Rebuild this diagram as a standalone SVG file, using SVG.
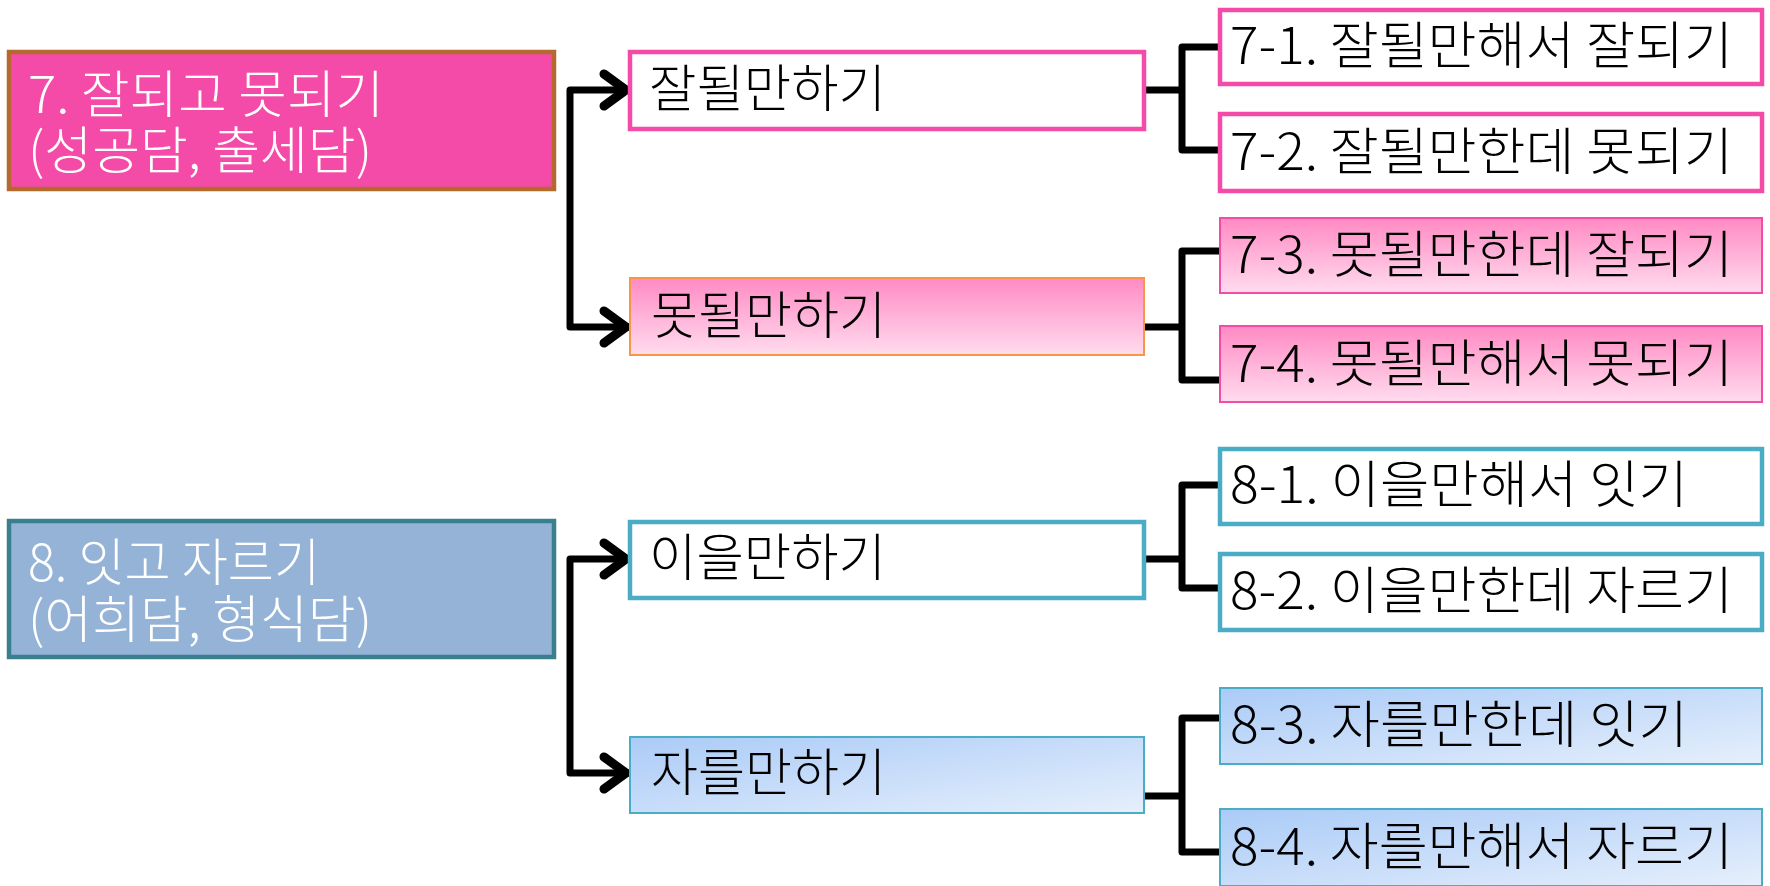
<svg xmlns="http://www.w3.org/2000/svg" width="1770" height="886" viewBox="0 0 1770 886">
<style>
text{font-family:"Noto Sans CJK KR","Noto Sans",sans-serif;font-size:51px;font-weight:300;fill:#000}
.w{fill:#fff}
.conn{fill:none;stroke:#000;stroke-width:7;stroke-linejoin:round;stroke-linecap:butt}
.head{fill:none;stroke:#000;stroke-width:9;stroke-linecap:round;stroke-linejoin:miter}
.pk{fill:#fff;stroke:#F54BA8;stroke-width:4.5}
.pkg{fill:url(#gp);stroke:#F54BA8;stroke-width:2}
.bl{fill:#fff;stroke:#4BACC6;stroke-width:4.5}
.blg{fill:url(#gb);stroke:#4BACC6;stroke-width:2}
</style>
<defs>
<linearGradient id="gp" x1="0" y1="0" x2="0" y2="1">
<stop offset="0" stop-color="#FF8AC4"/>
<stop offset="1" stop-color="#FFDCEE"/>
</linearGradient>
<linearGradient id="gb" x1="0" y1="0" x2="1" y2="1">
<stop offset="0" stop-color="#AACBF7"/>
<stop offset="1" stop-color="#E6EFFC"/>
</linearGradient>
</defs>
<rect width="1770" height="886" fill="#fff"/>

<g id="connectors">
<polyline class="conn" points="629,90 570,90 570,327 629,327"/>
<polyline class="head" points="604,74 626,90 604,106"/>
<polyline class="head" points="604,311 626,327 604,343"/>
<polyline class="conn" points="1145,90 1182,90"/>
<polyline class="conn" points="1219,47 1182,47 1182,150 1219,150"/>
<polyline class="conn" points="1145,327 1182,327"/>
<polyline class="conn" points="1219,251 1182,251 1182,380 1219,380"/>

<polyline class="conn" points="629,559 570,559 570,773 629,773"/>
<polyline class="head" points="604,543 626,559 604,575"/>
<polyline class="head" points="604,757 626,773 604,789"/>
<polyline class="conn" points="1145,559 1182,559"/>
<polyline class="conn" points="1219,485 1182,485 1182,588 1219,588"/>
<polyline class="conn" points="1145,796 1182,796"/>
<polyline class="conn" points="1219,718 1182,718 1182,852 1219,852"/>
</g>

<g id="n7">
<rect x="9" y="52" width="545" height="137" fill="#F54BA8" stroke="#B5692E" stroke-width="4.5"/>
<text class="w" x="28" y="113" textLength="356" lengthAdjust="spacingAndGlyphs">7. 잘되고 못되기</text>
<text class="w" x="28" y="169" textLength="344" lengthAdjust="spacingAndGlyphs">(성공담, 출세담)</text>
</g>
<g id="n7a">
<rect class="pk" x="630" y="52" width="514" height="77"/>
<text x="649" y="107" textLength="237" lengthAdjust="spacingAndGlyphs">잘될만하기</text>
</g>
<g id="n7b">
<rect class="pkg" x="630" y="278" width="514" height="77" style="stroke:#F79646"/>
<text x="651" y="334" textLength="235" lengthAdjust="spacingAndGlyphs">못될만하기</text>
</g>
<g id="n7-1">
<rect class="pk" x="1220" y="10" width="542" height="74"/>
<text x="1230" y="64" textLength="503" lengthAdjust="spacingAndGlyphs">7-1. 잘될만해서 잘되기</text>
</g>
<g id="n7-2">
<rect class="pk" x="1220" y="114" width="542" height="77"/>
<text x="1230" y="170" textLength="503" lengthAdjust="spacingAndGlyphs">7-2. 잘될만한데 못되기</text>
</g>
<g id="n7-3">
<rect class="pkg" x="1220" y="218" width="542" height="75"/>
<text x="1230" y="273" textLength="503" lengthAdjust="spacingAndGlyphs">7-3. 못될만한데 잘되기</text>
</g>
<g id="n7-4">
<rect class="pkg" x="1220" y="326" width="542" height="76"/>
<text x="1230" y="382" textLength="503" lengthAdjust="spacingAndGlyphs">7-4. 못될만해서 못되기</text>
</g>

<g id="n8">
<rect x="9" y="521" width="545" height="136" fill="#95B3D7" stroke="#3A7F8E" stroke-width="4.5"/>
<text class="w" x="28" y="581" textLength="292" lengthAdjust="spacingAndGlyphs">8. 잇고 자르기</text>
<text class="w" x="28" y="638" textLength="344" lengthAdjust="spacingAndGlyphs">(어희담, 형식담)</text>
</g>
<g id="n8a">
<rect class="bl" x="630" y="522" width="514" height="76"/>
<text x="649" y="576" textLength="237" lengthAdjust="spacingAndGlyphs">이을만하기</text>
</g>
<g id="n8b">
<rect class="blg" x="630" y="737" width="514" height="76"/>
<text x="651" y="791" textLength="235" lengthAdjust="spacingAndGlyphs">자를만하기</text>
</g>
<g id="n8-1">
<rect class="bl" x="1220" y="449" width="542" height="75"/>
<text x="1230" y="503" textLength="458" lengthAdjust="spacingAndGlyphs">8-1. 이을만해서 잇기</text>
</g>
<g id="n8-2">
<rect class="bl" x="1220" y="554" width="542" height="76"/>
<text x="1230" y="609" textLength="503" lengthAdjust="spacingAndGlyphs">8-2. 이을만한데 자르기</text>
</g>
<g id="n8-3">
<rect class="blg" x="1220" y="688" width="542" height="76"/>
<text x="1230" y="743" textLength="458" lengthAdjust="spacingAndGlyphs">8-3. 자를만한데 잇기</text>
</g>
<g id="n8-4">
<rect class="blg" x="1220" y="809" width="542" height="77"/>
<text x="1230" y="865" textLength="503" lengthAdjust="spacingAndGlyphs">8-4. 자를만해서 자르기</text>
</g>
</svg>
